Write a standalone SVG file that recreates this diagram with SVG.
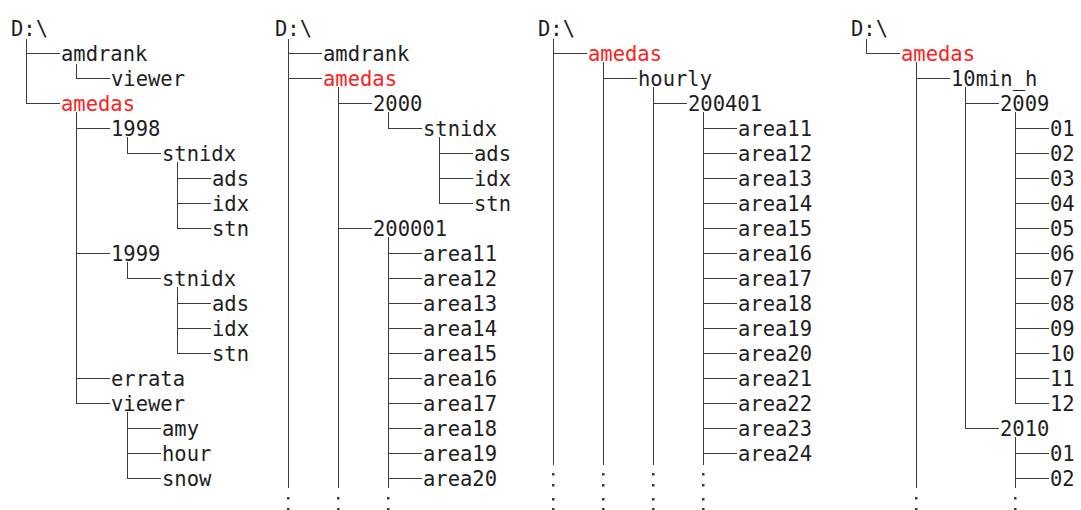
<svg xmlns="http://www.w3.org/2000/svg" width="1081" height="510" viewBox="0 0 1081 510">
  <style>
    text { font-family: "DejaVu Sans Mono", "Liberation Mono", monospace; font-size: 20.5px; fill: #1e1e1e; }
    text.hl { fill: #ff2020; }
    .ln { fill: none; stroke: #3c3c3c; stroke-width: 1; }
    .dot { fill: #3c3c3c; }
  </style>
  <rect width="1081" height="510" fill="#ffffff"/>

  <!-- tree connectors -->
  <g id="connectors">
    <!-- tree 1 -->
    <path class="ln" d="M26.5 39V103.5 M26 53.5H60 M26 103.5H60
      M76.5 64V78.5 M76 78.5H110
      M76.5 112V403.5 M76 128.5H110 M76 253.5H110 M76 378.5H110 M76 403.5H110
      M127.5 137V153.5 M127 153.5H161
      M127.5 262V278.5 M127 278.5H161
      M127.5 412V478.5 M127 428.5H161 M127 453.5H161 M127 478.5H161
      M177.5 162V228.5 M177 178.5H211 M177 203.5H211 M177 228.5H211
      M177.5 287V353.5 M177 303.5H211 M177 328.5H211 M177 353.5H211"/>
    <!-- tree 2 -->
    <path class="ln" d="M288.5 39V488 M288 53.5H322 M288 78.5H322
      M338.5 87V488 M338 103.5H372 M338 228.5H372
      M388.5 112V128.5 M388 128.5H422
      M388.5 237V488 M388 253.5H422 M388 278.5H422 M388 303.5H422 M388 328.5H422 M388 353.5H422
      M388 378.5H422 M388 403.5H422 M388 428.5H422 M388 453.5H422 M388 478.5H422
      M439.5 137V203.5 M439 153.5H473 M439 178.5H473 M439 203.5H473"/>
    <!-- tree 3 -->
    <path class="ln" d="M553.5 39V465 M553 53.5H587
      M603.5 62V465 M603 78.5H637
      M653.5 87V465 M653 103.5H687
      M703.5 112V465 M703 128.5H737 M703 153.5H737 M703 178.5H737 M703 203.5H737 M703 228.5H737
      M703 253.5H737 M703 278.5H737 M703 303.5H737 M703 328.5H737 M703 353.5H737
      M703 378.5H737 M703 403.5H737 M703 428.5H737 M703 453.5H737"/>
    <!-- tree 4 -->
    <path class="ln" d="M866.5 39V53.5 M866 53.5H900
      M916.5 62V488 M916 78.5H950
      M965.5 87V428.5 M965 103.5H999 M965 428.5H999
      M1015.5 112V403.5 M1015 128.5H1049 M1015 153.5H1049 M1015 178.5H1049 M1015 203.5H1049
      M1015 228.5H1049 M1015 253.5H1049 M1015 278.5H1049 M1015 303.5H1049 M1015 328.5H1049
      M1015 353.5H1049 M1015 378.5H1049 M1015 403.5H1049
      M1015.5 437V488 M1015 453.5H1049 M1015 478.5H1049"/>

    <!-- continuation marks -->
    <g class="dot">
      <rect x="287" y="497" width="2.5" height="2.5"/><rect x="287" y="508" width="2.5" height="2.5"/>
      <rect x="337" y="497" width="2.5" height="2.5"/><rect x="337" y="508" width="2.5" height="2.5"/>
      <rect x="387" y="497" width="2.5" height="2.5"/><rect x="387" y="508" width="2.5" height="2.5"/>

      <rect x="552" y="473" width="2.5" height="2.5"/><rect x="552" y="484" width="2.5" height="2.5"/>
      <rect x="552" y="498" width="2.5" height="2.5"/><rect x="552" y="508" width="2.5" height="2.5"/>
      <rect x="602" y="473" width="2.5" height="2.5"/><rect x="602" y="484" width="2.5" height="2.5"/>
      <rect x="602" y="498" width="2.5" height="2.5"/><rect x="602" y="508" width="2.5" height="2.5"/>
      <rect x="652" y="473" width="2.5" height="2.5"/><rect x="652" y="484" width="2.5" height="2.5"/>
      <rect x="652" y="498" width="2.5" height="2.5"/><rect x="652" y="508" width="2.5" height="2.5"/>
      <rect x="702" y="473" width="2.5" height="2.5"/><rect x="702" y="484" width="2.5" height="2.5"/>
      <rect x="702" y="498" width="2.5" height="2.5"/><rect x="702" y="508" width="2.5" height="2.5"/>

      <rect x="915" y="497" width="2.5" height="2.5"/><rect x="915" y="508" width="2.5" height="2.5"/>
      <rect x="1014" y="497" width="2.5" height="2.5"/><rect x="1014" y="508" width="2.5" height="2.5"/>
    </g>
  </g>

  <!-- tree 1 nodes -->
  <g id="t1-root"><text x="11" y="36">D:\</text></g>
  <g id="t1-amdrank"><text x="61" y="61">amdrank</text></g>
  <g id="t1-amdrank-viewer"><text x="111" y="86">viewer</text></g>
  <g id="t1-amedas"><text class="hl" x="61" y="111">amedas</text></g>
  <g id="t1-1998"><text x="111" y="136">1998</text></g>
  <g id="t1-1998-stnidx"><text x="162" y="161">stnidx</text></g>
  <g id="t1-1998-ads"><text x="212" y="186">ads</text></g>
  <g id="t1-1998-idx"><text x="212" y="211">idx</text></g>
  <g id="t1-1998-stn"><text x="212" y="236">stn</text></g>
  <g id="t1-1999"><text x="111" y="261">1999</text></g>
  <g id="t1-1999-stnidx"><text x="162" y="286">stnidx</text></g>
  <g id="t1-1999-ads"><text x="212" y="311">ads</text></g>
  <g id="t1-1999-idx"><text x="212" y="336">idx</text></g>
  <g id="t1-1999-stn"><text x="212" y="361">stn</text></g>
  <g id="t1-errata"><text x="111" y="386">errata</text></g>
  <g id="t1-viewer"><text x="111" y="411">viewer</text></g>
  <g id="t1-amy"><text x="162" y="436">amy</text></g>
  <g id="t1-hour"><text x="162" y="461">hour</text></g>
  <g id="t1-snow"><text x="162" y="486">snow</text></g>

  <!-- tree 2 nodes -->
  <g id="t2-root"><text x="275" y="36">D:\</text></g>
  <g id="t2-amdrank"><text x="323" y="61">amdrank</text></g>
  <g id="t2-amedas"><text class="hl" x="323" y="86">amedas</text></g>
  <g id="t2-2000"><text x="373" y="111">2000</text></g>
  <g id="t2-stnidx"><text x="423" y="136">stnidx</text></g>
  <g id="t2-ads"><text x="474" y="161">ads</text></g>
  <g id="t2-idx"><text x="474" y="186">idx</text></g>
  <g id="t2-stn"><text x="474" y="211">stn</text></g>
  <g id="t2-200001"><text x="373" y="236">200001</text></g>
  <g id="t2-area11"><text x="423" y="261">area11</text></g>
  <g id="t2-area12"><text x="423" y="286">area12</text></g>
  <g id="t2-area13"><text x="423" y="311">area13</text></g>
  <g id="t2-area14"><text x="423" y="336">area14</text></g>
  <g id="t2-area15"><text x="423" y="361">area15</text></g>
  <g id="t2-area16"><text x="423" y="386">area16</text></g>
  <g id="t2-area17"><text x="423" y="411">area17</text></g>
  <g id="t2-area18"><text x="423" y="436">area18</text></g>
  <g id="t2-area19"><text x="423" y="461">area19</text></g>
  <g id="t2-area20"><text x="423" y="486">area20</text></g>

  <!-- tree 3 nodes -->
  <g id="t3-root"><text x="538" y="36">D:\</text></g>
  <g id="t3-amedas"><text class="hl" x="588" y="61">amedas</text></g>
  <g id="t3-hourly"><text x="638" y="86">hourly</text></g>
  <g id="t3-200401"><text x="688" y="111">200401</text></g>
  <g id="t3-area11"><text x="738" y="136">area11</text></g>
  <g id="t3-area12"><text x="738" y="161">area12</text></g>
  <g id="t3-area13"><text x="738" y="186">area13</text></g>
  <g id="t3-area14"><text x="738" y="211">area14</text></g>
  <g id="t3-area15"><text x="738" y="236">area15</text></g>
  <g id="t3-area16"><text x="738" y="261">area16</text></g>
  <g id="t3-area17"><text x="738" y="286">area17</text></g>
  <g id="t3-area18"><text x="738" y="311">area18</text></g>
  <g id="t3-area19"><text x="738" y="336">area19</text></g>
  <g id="t3-area20"><text x="738" y="361">area20</text></g>
  <g id="t3-area21"><text x="738" y="386">area21</text></g>
  <g id="t3-area22"><text x="738" y="411">area22</text></g>
  <g id="t3-area23"><text x="738" y="436">area23</text></g>
  <g id="t3-area24"><text x="738" y="461">area24</text></g>

  <!-- tree 4 nodes -->
  <g id="t4-root"><text x="851" y="36">D:\</text></g>
  <g id="t4-amedas"><text class="hl" x="901" y="61">amedas</text></g>
  <g id="t4-10min_h"><text x="951" y="86">10min_h</text></g>
  <g id="t4-2009"><text x="1000" y="111">2009</text></g>
  <g id="t4-2009-01"><text x="1050" y="136">01</text></g>
  <g id="t4-2009-02"><text x="1050" y="161">02</text></g>
  <g id="t4-2009-03"><text x="1050" y="186">03</text></g>
  <g id="t4-2009-04"><text x="1050" y="211">04</text></g>
  <g id="t4-2009-05"><text x="1050" y="236">05</text></g>
  <g id="t4-2009-06"><text x="1050" y="261">06</text></g>
  <g id="t4-2009-07"><text x="1050" y="286">07</text></g>
  <g id="t4-2009-08"><text x="1050" y="311">08</text></g>
  <g id="t4-2009-09"><text x="1050" y="336">09</text></g>
  <g id="t4-2009-10"><text x="1050" y="361">10</text></g>
  <g id="t4-2009-11"><text x="1050" y="386">11</text></g>
  <g id="t4-2009-12"><text x="1050" y="411">12</text></g>
  <g id="t4-2010"><text x="1000" y="436">2010</text></g>
  <g id="t4-2010-01"><text x="1050" y="461">01</text></g>
  <g id="t4-2010-02"><text x="1050" y="486">02</text></g>
</svg>
